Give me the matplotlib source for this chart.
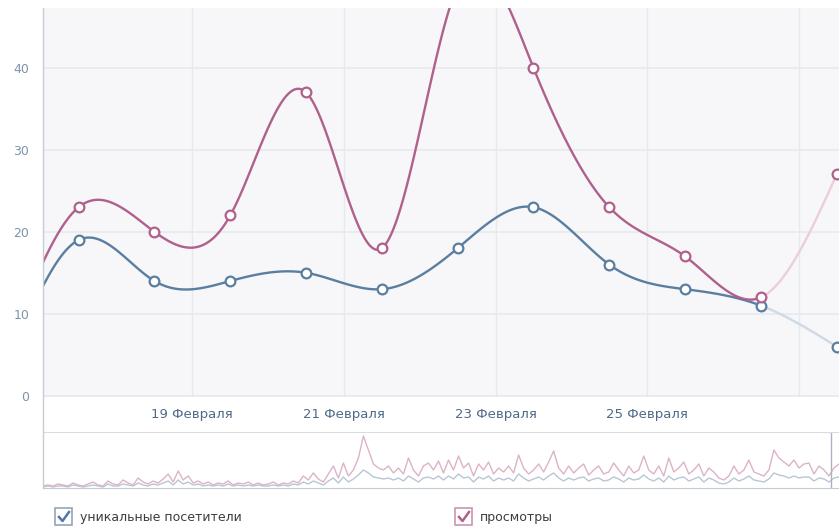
import numpy as np
import matplotlib
matplotlib.use("Agg")
import matplotlib.pyplot as plt
from matplotlib.lines import Line2D
from matplotlib.patches import Rectangle

# daily values (x = day of February, points sit at midday)
days = [16.5, 17.5, 18.5, 19.5, 20.5, 21.5, 22.5, 23.5, 24.5, 25.5, 26.5, 27.5]
views = [4, 23, 20, 22, 37, 18, 50, 40, 23, 17, 12, 27]
visitors = [2, 19, 14, 14, 15, 13, 18, 23, 16, 13, 11, 6]

tick_days = [19, 21, 23, 25]
tick_labels = ["19 Февраля", "21 Февраля", "23 Февраля", "25 Февраля"]
yticks = [0, 10, 20, 30, 40]

# overview strip (hourly-ish values, rough reading of the mini chart)
views_overview = [
    2, 3, 2, 4, 3, 2, 5, 3, 2, 4, 6, 3, 2, 7, 4, 3, 8, 5, 3, 10, 6, 4, 7, 5, 9, 14, 6, 17, 8, 12, 5, 7, 4, 6, 3, 5, 4, 7, 3, 5,
    4, 6, 3, 5, 3, 4, 6, 3, 5, 4, 7, 5, 12, 8, 15, 9, 6, 14, 22, 10, 25, 12, 18, 30, 52, 38, 24, 20, 18, 22, 15, 20, 14, 30, 18, 12, 22, 25, 18, 27,
    15, 28, 18, 32, 20, 25, 12, 24, 18, 26, 14, 20, 16, 22, 15, 33, 20, 14, 18, 24, 16, 26, 37, 20, 14, 22, 15, 20, 24, 13, 18, 22, 14, 16, 25, 18, 12, 22, 15, 18,
    32, 18, 14, 22, 12, 30, 16, 20, 26, 14, 18, 24, 12, 20, 16, 10, 8, 12, 22, 14, 18, 28, 16, 14, 12, 18, 38, 30, 26, 22, 28, 20, 24, 25, 14, 22, 18, 12, 20, 24,
]
visitors_overview = [
    1, 2, 1, 2, 2, 1, 3, 2, 1, 2, 3, 2, 1, 4, 2, 2, 4, 3, 2, 5, 3, 2, 4, 3, 5, 7, 3, 8, 4, 6, 3, 4, 2, 3, 2, 3, 2, 4, 2, 3,
    2, 3, 2, 3, 2, 2, 3, 2, 3, 2, 4, 3, 6, 4, 7, 5, 3, 7, 10, 5, 11, 6, 9, 13, 18, 15, 11, 10, 9, 10, 8, 10, 7, 12, 9, 6, 10, 11, 9, 12,
    8, 12, 9, 14, 10, 11, 6, 11, 9, 12, 7, 10, 8, 10, 7, 14, 10, 7, 9, 11, 8, 12, 15, 10, 7, 10, 8, 10, 11, 7, 9, 10, 7, 8, 11, 9, 6, 10, 8, 9,
    13, 9, 7, 10, 6, 12, 8, 10, 11, 7, 9, 11, 6, 10, 8, 5, 4, 6, 10, 7, 9, 12, 8, 7, 6, 9, 15, 13, 12, 10, 12, 10, 11, 11, 7, 10, 9, 6, 10, 11,
]

PINK = "#b0608c"
BLUE = "#5a7ea0"
PINK_LIGHT = "#ebcddc"
BLUE_LIGHT = "#cfd9e4"
GRID = "#e7e9ee"
W, H = 839, 529


def px(x0, y0, x1, y1):
    # pixel box (top-left origin) -> figure rect
    return [x0 / W, 1 - y1 / H, (x1 - x0) / W, (y1 - y0) / H]


def natural_spline(x, y, n=40):
    x = np.asarray(x, float)
    y = np.asarray(y, float)
    k = len(x)
    h = np.diff(x)
    A = np.zeros((k, k))
    b = np.zeros(k)
    A[0, 0] = A[-1, -1] = 1
    for i in range(1, k - 1):
        A[i, i - 1] = h[i - 1]
        A[i, i] = 2 * (h[i - 1] + h[i])
        A[i, i + 1] = h[i]
        b[i] = 6 * ((y[i + 1] - y[i]) / h[i] - (y[i] - y[i - 1]) / h[i - 1])
    m = np.linalg.solve(A, b)
    xs, ys = [], []
    for i in range(k - 1):
        t = np.linspace(x[i], x[i + 1], n)
        a = x[i + 1] - t
        c = t - x[i]
        s = (m[i] * a ** 3 + m[i + 1] * c ** 3) / (6 * h[i]) \
            + (y[i] / h[i] - m[i] * h[i] / 6) * a \
            + (y[i + 1] / h[i] - m[i + 1] * h[i] / 6) * c
        xs.append(t)
        ys.append(s)
    return xs, ys


fig = plt.figure(figsize=(W / 100, H / 100), dpi=100)
fig.patch.set_facecolor("white")

ax = fig.add_axes(px(43, 8, 839, 397))
ax.set_facecolor("#f7f7f9")
ax.set_xlim(17.03, 27.53)
ax.set_ylim(-0.15, 47.3)
for s in ax.spines.values():
    s.set_visible(False)
ax.set_xticks(tick_days)
ax.set_xticklabels(tick_labels)
ax.set_yticks(yticks)
ax.tick_params(axis="x", length=0, pad=8, labelsize=9.5, labelcolor="#4d6a8a")
ax.tick_params(axis="y", length=0, pad=10, labelsize=9, labelcolor="#7f93a8")
for d in tick_days + [27]:
    ax.axvline(d, color=GRID, lw=1, zorder=0)
for v in yticks:
    ax.axhline(v, color=GRID, lw=1.2, zorder=0)

for vals, col, light in [(visitors, BLUE, BLUE_LIGHT), (views, PINK, PINK_LIGHT)]:
    xs, ys = natural_spline(days, vals)
    for i in range(len(xs)):
        c = light if i == len(xs) - 1 else col
        ax.plot(xs[i], ys[i], color=c, lw=1.7, solid_capstyle="round", zorder=2)
    ax.plot(days[1:], vals[1:], "o", ms=7, mfc="white", mec=col, mew=1.6,
            zorder=3, clip_on=False)

# overview strip
ov = fig.add_axes(px(43, 432, 839, 488))
ov.set_facecolor("white")
xo = np.arange(len(views_overview))
ov.plot(xo, visitors_overview, color="#b9c6d5", lw=1)
ov.plot(xo, views_overview, color="#dcb3c8", lw=1)
ov.set_xlim(0, len(views_overview) - 1)
ov.set_ylim(0, 56)
ov.set_xticks([])
ov.set_yticks([])
for k in ["left", "right"]:
    ov.spines[k].set_visible(False)
ov.spines["top"].set_color("#d9dde3")
ov.spines["bottom"].set_color("#c6ccd4")
ov.axvline(len(views_overview) - 1 - 1.6, color="#aab3bf", lw=1)

# left border running through both panels
fig.add_artist(Line2D([43 / W, 43 / W], [1 - 8 / H, 1 - 488 / H],
                      color="#c7ccd4", lw=1, transform=fig.transFigure))

# checkbox legend
def checkbox(x, y, col, box, label):
    fig.add_artist(Rectangle((x / W, 1 - (y + 17) / H), 17 / W, 17 / H,
                             transform=fig.transFigure, fill=False,
                             ec=box, lw=1.2))
    fig.add_artist(Line2D([(x + 4) / W, (x + 7.5) / W, (x + 14) / W],
                          [1 - (y + 9) / H, 1 - (y + 13) / H, 1 - (y + 4) / H],
                          color=col, lw=1.8, transform=fig.transFigure))
    fig.text((x + 25) / W, 1 - (y + 9) / H, label, fontsize=9,
             color="#3d3d3d", va="center", ha="left")


checkbox(55, 508, "#4e79a7", "#93a4b8", "уникальные посетители")
checkbox(455, 508, "#b0608c", "#c995b2", "просмотры")

fig.savefig("out.png", dpi=100)
